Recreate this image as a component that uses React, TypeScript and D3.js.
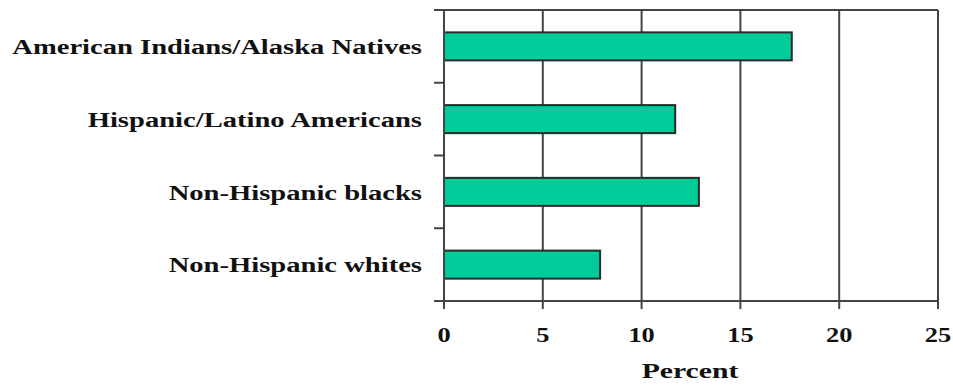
import React from "react";
import * as d3 from "d3";

const categories = [
  "American Indians/Alaska Natives",
  "Hispanic/Latino Americans",
  "Non-Hispanic blacks",
  "Non-Hispanic whites",
];
const values = [17.6, 11.7, 12.9, 7.9];
const xTicks = [0, 5, 10, 15, 20, 25];
const xLabel = "Percent";

export default function App() {
  const W = 953, H = 385;
  const left = 444, right = 938, top = 10, bottom = 301;
  const x = d3.scaleLinear().domain([0, 25]).range([left, right]);
  const y = d3.scaleBand().domain(categories).range([top, bottom]).paddingInner(0.615).paddingOuter(0.3075);
  const band = (bottom - top) / categories.length;
  const font = "'Liberation Serif', 'Times New Roman', serif";
  const labelX = 422;
  return (
    <svg width={W} height={H} style={{ position: "absolute", left: 0, top: 0, background: "#fff" }}>
      {xTicks.slice(1).map((t) => (
        <line key={"g" + t} x1={x(t)} x2={x(t)} y1={top} y2={bottom} stroke="#444" strokeWidth={2} />
      ))}
      <line x1={left - 10} x2={right} y1={top} y2={top} stroke="#444" strokeWidth={2} />
      {categories.map((c, i) => (
        <rect key={c} x={x(0)} y={y(c)!} width={x(values[i]) - x(0)} height={y.bandwidth()}
          fill="#00CC99" stroke="#2a2a2a" strokeWidth={2} />
      ))}
      <line x1={left} x2={left} y1={top} y2={bottom + 8} stroke="#444" strokeWidth={2} />
      <line x1={left - 10} x2={right} y1={bottom} y2={bottom} stroke="#444" strokeWidth={2} />
      {d3.range(1, categories.length).map((i) => (
        <line key={"yt" + i} x1={left - 10} x2={left} y1={top + band * i} y2={top + band * i} stroke="#444" strokeWidth={2} />
      ))}
      {xTicks.map((t) => (
        <g key={"xt" + t}>
          <line x1={x(t)} x2={x(t)} y1={bottom} y2={bottom + 8} stroke="#444" strokeWidth={2} />
          <text transform={`translate(${x(t)},${bottom + 41}) scale(1.2,1)`} textAnchor="middle"
            fontFamily={font} fontWeight="bold" fontSize={22} fill="#111">{t}</text>
        </g>
      ))}
      {categories.map((c) => (
        <text key={"l" + c} transform={`translate(${labelX},${y(c)! + y.bandwidth() / 2}) scale(1.3,1)`} dy="0.35em" textAnchor="end"
          fontFamily={font} fontWeight="bold" fontSize={22} fill="#111">{c}</text>
      ))}
      <text transform={`translate(${(left + right) / 2 - 1},378) scale(1.35,1)`} textAnchor="middle"
        fontFamily={font} fontWeight="bold" fontSize={22} fill="#111">{xLabel}</text>
    </svg>
  );
}
